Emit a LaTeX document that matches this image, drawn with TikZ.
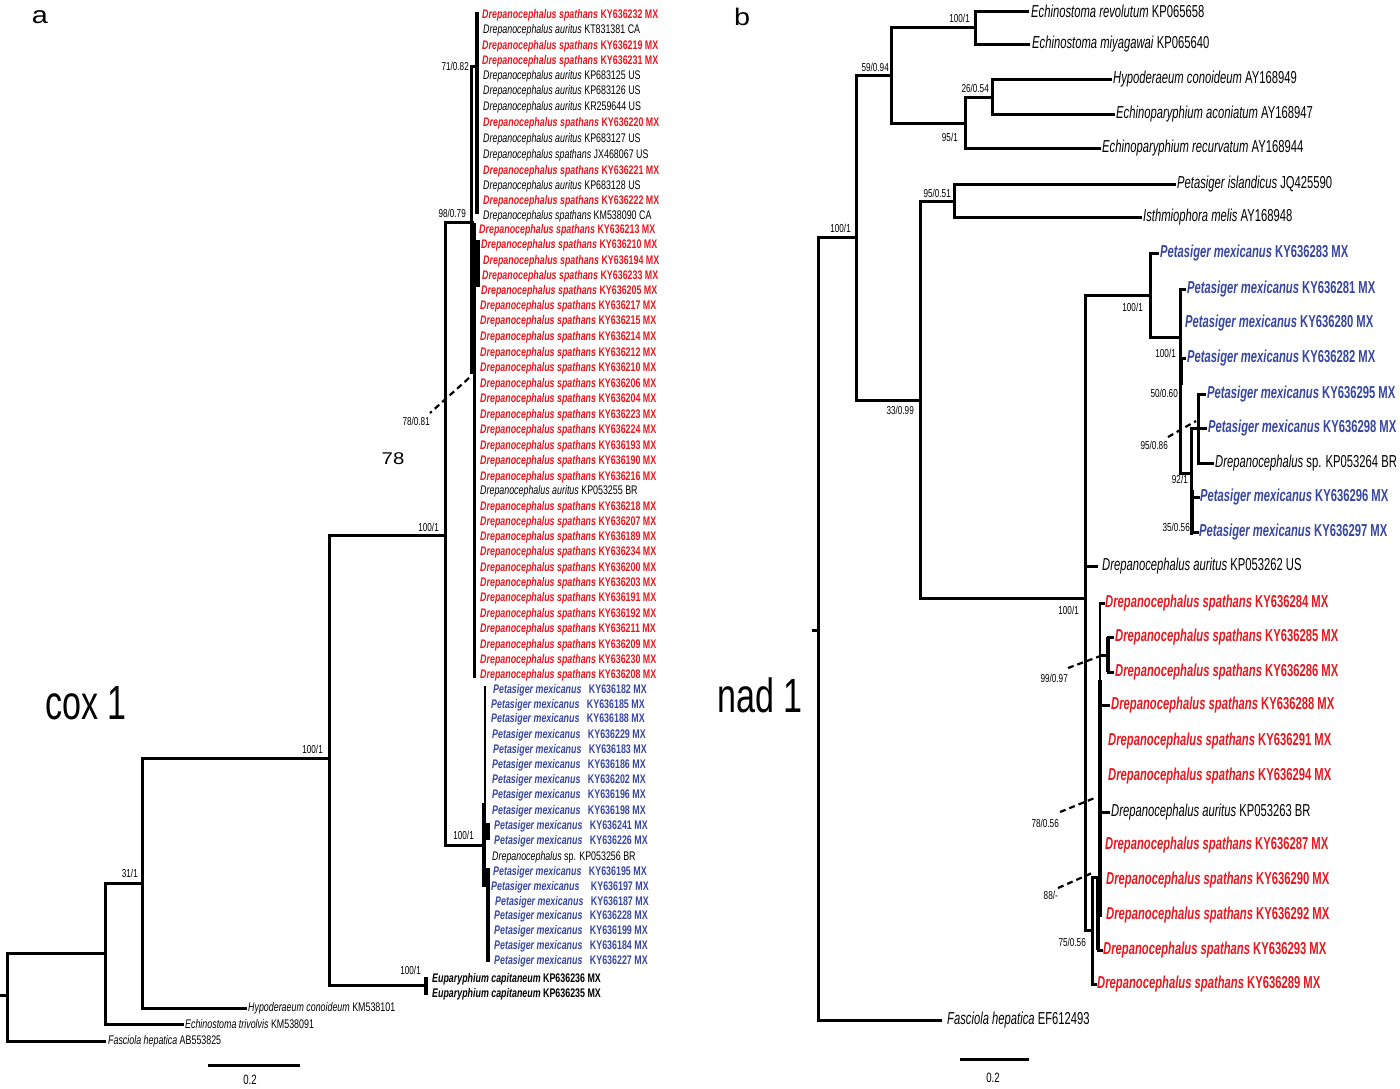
\documentclass[tikz,border=0pt]{standalone}
\usepackage{fontspec}
\setmainfont{Liberation Sans}[FakeStretch=0.71]
\newfontfamily\widefont{Liberation Sans}[FakeStretch=1.2]
\newfontfamily\rfont{Liberation Sans}[FakeStretch=0.65]
\definecolor{dred}{RGB}{230,25,30}
\definecolor{pblue}{RGB}{55,70,160}
\newcommand\lfDs[1]{\textbf{\textit{Drepanocephalus spathans} #1 MX}}
\newcommand\lfDa[1]{\textit{Drepanocephalus auritus} #1}
\newcommand\lfPm[1]{\textbf{\textit{Petasiger mexicanus}\hspace{5pt} #1 MX}}
\newcommand\lfPR[1]{\textbf{\textit{Petasiger mexicanus} #1 MX}}
\tikzset{
  lL/.style={anchor=west,inner sep=0pt,font=\fontsize{12.5}{14}\selectfont},
  lR/.style={anchor=west,inner sep=0pt,font=\rfont\fontsize{17.3}{19}\selectfont},
  bs/.style={anchor=east,inner sep=0pt,font=\fontsize{11.5}{13}\selectfont},
  sp/.style={text=dred},
  pm/.style={text=pblue},
  br/.style={line width=3pt,line cap=rect},
  thk/.style={line width=4.5pt},
  dsh/.style={line width=2.2pt,dash pattern=on 6pt off 4pt},
}
\begin{document}
\begin{tikzpicture}[x=1pt,y=-1pt]
\useasboundingbox (0,0) rectangle (1400,1088);
% ---------- panel titles ----------
\node[font=\widefont\fontsize{24}{26}\selectfont] (pa) at (40,17) {a};
\node[font=\widefont\fontsize{24}{26}\selectfont] (pb) at (742,17) {b};
\node[font=\fontsize{48}{50}\selectfont] (cox) at (86,703) {cox 1};
\node[font=\fontsize{48}{50}\selectfont] (nad) at (760,695) {nad 1};
\node[font=\widefont\fontsize{17}{18}\selectfont] (n78) at (393,459) {78};
% ---------- left leaves ----------
\node[lL,sp] (L1) at (482,15) {\lfDs{KY636232}};
\node[lL] (L2) at (483,30) {\lfDa{KT831381 CA}};
\node[lL,sp] (L3) at (482,46) {\lfDs{KY636219}};
\node[lL,sp] (L4) at (482,61) {\lfDs{KY636231}};
\node[lL] (L5) at (483,76) {\lfDa{KP683125 US}};
\node[lL] (L6) at (483,91) {\lfDa{KP683126 US}};
\node[lL] (L7) at (483,107) {\lfDa{KR259644 US}};
\node[lL,sp] (L8) at (483,123) {\lfDs{KY636220}};
\node[lL] (L9) at (483,139) {\lfDa{KP683127 US}};
\node[lL] (L10) at (483,155) {\textit{Drepanocephalus spathans} JX468067 US};
\node[lL,sp] (L11) at (483,171) {\lfDs{KY636221}};
\node[lL] (L12) at (483,186) {\lfDa{KP683128 US}};
\node[lL,sp] (L13) at (483,201) {\lfDs{KY636222}};
\node[lL] (L14) at (483,216) {\textit{Drepanocephalus spathans} KM538090 CA};
\node[lL,sp] (L15) at (479,230) {\lfDs{KY636213}};
\node[lL,sp] (L16) at (481,245) {\lfDs{KY636210}};
\node[lL,sp] (L17) at (483,261) {\lfDs{KY636194}};
\node[lL,sp] (L18) at (482,276) {\lfDs{KY636233}};
\node[lL,sp] (L19) at (481,291) {\lfDs{KY636205}};
\node[lL,sp] (L20) at (480,306) {\lfDs{KY636217}};
\node[lL,sp] (L21) at (480,321) {\lfDs{KY636215}};
\node[lL,sp] (L22) at (480,337) {\lfDs{KY636214}};
\node[lL,sp] (L23) at (480,353) {\lfDs{KY636212}};
\node[lL,sp] (L24) at (480,368) {\lfDs{KY636210}};
\node[lL,sp] (L25) at (480,384) {\lfDs{KY636206}};
\node[lL,sp] (L26) at (480,399) {\lfDs{KY636204}};
\node[lL,sp] (L27) at (480,415) {\lfDs{KY636223}};
\node[lL,sp] (L28) at (480,430) {\lfDs{KY636224}};
\node[lL,sp] (L29) at (480,446) {\lfDs{KY636193}};
\node[lL,sp] (L30) at (480,461) {\lfDs{KY636190}};
\node[lL,sp] (L31) at (480,477) {\lfDs{KY636216}};
\node[lL] (L32) at (480,491) {\lfDa{KP053255 BR}};
\node[lL,sp] (L33) at (480,507) {\lfDs{KY636218}};
\node[lL,sp] (L34) at (480,522) {\lfDs{KY636207}};
\node[lL,sp] (L35) at (480,537) {\lfDs{KY636189}};
\node[lL,sp] (L36) at (480,552) {\lfDs{KY636234}};
\node[lL,sp] (L37) at (480,568) {\lfDs{KY636200}};
\node[lL,sp] (L38) at (480,583) {\lfDs{KY636203}};
\node[lL,sp] (L39) at (480,598) {\lfDs{KY636191}};
\node[lL,sp] (L40) at (480,614) {\lfDs{KY636192}};
\node[lL,sp] (L41) at (480,629) {\lfDs{KY636211}};
\node[lL,sp] (L42) at (480,645) {\lfDs{KY636209}};
\node[lL,sp] (L43) at (480,660) {\lfDs{KY636230}};
\node[lL,sp] (L44) at (480,675) {\lfDs{KY636208}};
\node[lL,pm] (L45) at (493,690) {\lfPm{KY636182}};
\node[lL,pm] (L46) at (491,705) {\lfPm{KY636185}};
\node[lL,pm] (L47) at (491,719) {\lfPm{KY636188}};
\node[lL,pm] (L48) at (492,735) {\lfPm{KY636229}};
\node[lL,pm] (L49) at (493,750) {\lfPm{KY636183}};
\node[lL,pm] (L50) at (492,765) {\lfPm{KY636186}};
\node[lL,pm] (L51) at (492,780) {\lfPm{KY636202}};
\node[lL,pm] (L52) at (492,795) {\lfPm{KY636196}};
\node[lL,pm] (L53) at (492,811) {\lfPm{KY636198}};
\node[lL,pm] (L54) at (494,826) {\lfPm{KY636241}};
\node[lL,pm] (L55) at (494,841) {\lfPm{KY636226}};
\node[lL] (L56) at (492,857) {\textit{Drepanocephalus} sp. KP053256 BR};
\node[lL,pm] (L57) at (493,872) {\lfPm{KY636195}};
\node[lL,pm] (L58) at (491,887) {\textbf{\textit{Petasiger mexicanus}\hspace{9pt} KY636197 MX}};
\node[lL,pm] (L59) at (495,902) {\lfPm{KY636187}};
\node[lL,pm] (L60) at (494,916) {\lfPm{KY636228}};
\node[lL,pm] (L61) at (494,931) {\lfPm{KY636199}};
\node[lL,pm] (L62) at (494,946) {\lfPm{KY636184}};
\node[lL,pm] (L63) at (494,961) {\lfPm{KY636227}};
\node[lL] (L64) at (432,979) {\textbf{\textit{Euparyphium capitaneum} KP636236 MX}};
\node[lL] (L65) at (432,994) {\textbf{\textit{Euparyphium capitaneum} KP636235 MX}};
\node[lL] (L66) at (248,1008) {\textit{Hypoderaeum conoideum} KM538101};
\node[lL] (L67) at (185,1024) {\textit{Echinostoma trivolvis} KM538091};
\node[lL] (L68) at (108,1041) {\textit{Fasciola hepatica} AB553825};
% ---------- left branches ----------
\draw[br] (0,995) -- (7,995);
\draw[br] (7,953) -- (7,1041) -- ([xshift=-4pt]L68.west);
\draw[br] (7,953) -- (105,953);
\draw[br] (105,883) -- (105,1024) -- ([xshift=-3pt]L67.west);
\draw[br] (105,883) -- (142,883);
\draw[br] (142,758) -- (142,1008) -- ([xshift=-3pt]L66.west);
\draw[br] (142,758) -- (329,758);
\draw[br] (329,535) -- (329,985) -- (426,985);
\draw[thk] (426,977) -- (426,995);
\draw[br] (329,535) -- (445,535);
\draw[br] (445,222) -- (445,845) -- (484,845);
\draw[br] (445,222) -- (472,222);
\draw[br] (471,66) -- (471,372);
\draw[br] (471,66) -- (477,66);
\draw[thk] (477,12) -- (477,214);
\draw[br] (474,224) -- (474,676);
\draw[thk] (478,240) -- (478,287);
\draw[dsh] (469,378) -- (430,413);
\draw[line width=2pt] (485,686) -- (485,803);
\draw[thk] (484,803) -- (484,887);
\draw[thk] (488,823) -- (488,840);
\draw[thk] (488,868) -- (488,962);
\draw[br] (484,876) -- (488,876);
% left support values
\node[bs] (bl1) at (469,66) {71/0.82};
\node[bs] (bl2) at (466,213) {98/0.79};
\node[bs] (bl3) at (430,421) {78/0.81};
\node[bs] (bl4) at (439,527) {100/1};
\node[bs] (bl5) at (323,749) {100/1};
\node[bs] (bl6) at (138,873) {31/1};
\node[bs] (bl7) at (474,835) {100/1};
\node[bs] (bl8) at (421,970) {100/1};
% left scale bar
\coordinate (sl1) at (209,1065);
\coordinate (sl2) at (298,1065);
\draw[br] (sl1) -- (sl2);
\node[font=\fontsize{13.5}{15}\selectfont] (sbl) at (250,1080) {0.2};
% ---------- right leaves ----------
\node[lR] (R1) at (1031,11) {\textit{Echinostoma revolutum} KP065658};
\node[lR] (R2) at (1032,44) {\textit{Echinostoma miyagawai} KP065640};
\node[lR] (R3) at (1113,79) {\textit{Hypoderaeum conoideum} AY168949};
\node[lR] (R4) at (1116,114) {\textit{Echinoparyphium aconiatum} AY168947};
\node[lR] (R5) at (1102,148) {\textit{Echinoparyphium recurvatum} AY168944};
\node[lR] (R6) at (1177,184) {\textit{Petasiger islandicus} JQ425590};
\node[lR] (R7) at (1143,217) {\textit{Isthmiophora melis} AY168948};
\node[lR,pm] (R8) at (1160,253) {\lfPR{KY636283}};
\node[lR,pm] (R9) at (1187,289) {\lfPR{KY636281}};
\node[lR,pm] (R10) at (1185,323) {\lfPR{KY636280}};
\node[lR,pm] (R11) at (1187,358) {\lfPR{KY636282}};
\node[lR,pm] (R12) at (1207,394) {\lfPR{KY636295}};
\node[lR,pm] (R13) at (1208,428) {\lfPR{KY636298}};
\node[lR] (R14) at (1215,463) {\textit{Drepanocephalus} sp. KP053264 BR};
\node[lR,pm] (R15) at (1200,497) {\lfPR{KY636296}};
\node[lR,pm] (R16) at (1199,532) {\lfPR{KY636297}};
\node[lR] (R17) at (1102,566) {\lfDa{KP053262 US}};
\node[lR,sp] (R18) at (1105,603) {\lfDs{KY636284}};
\node[lR,sp] (R19) at (1115,637) {\lfDs{KY636285}};
\node[lR,sp] (R20) at (1115,672) {\lfDs{KY636286}};
\node[lR,sp] (R21) at (1111,705) {\lfDs{KY636288}};
\node[lR,sp] (R22) at (1108,741) {\lfDs{KY636291}};
\node[lR,sp] (R23) at (1108,776) {\lfDs{KY636294}};
\node[lR] (R24) at (1111,812) {\lfDa{KP053263 BR}};
\node[lR,sp] (R25) at (1105,845) {\lfDs{KY636287}};
\node[lR,sp] (R26) at (1106,880) {\lfDs{KY636290}};
\node[lR,sp] (R27) at (1106,915) {\lfDs{KY636292}};
\node[lR,sp] (R28) at (1103,950) {\lfDs{KY636293}};
\node[lR,sp] (R29) at (1097,984) {\lfDs{KY636289}};
\node[lR] (R30) at (947,1020) {\textit{Fasciola hepatica} EF612493};
% ---------- right branches ----------
\draw[br] (813,630) -- (818,630);
\draw[br] (818,237) -- (818,1020) -- ([xshift=-7pt]R30.west);
\draw[br] (818,237) -- (856,237);
\draw[br] (856,75) -- (856,400);
\draw[br] (856,75) -- (891,75);
\draw[br] (891,27) -- (891,123);
\draw[br] (891,27) -- (975,27);
\draw[br] (975,11) -- (975,44);
\draw[br] (975,11) -- ([xshift=-4pt]R1.west);
\draw[br] (975,44) -- ([xshift=-4pt]R2.west);
\draw[br] (891,123) -- (965,123);
\draw[br] (965,97) -- (965,148) -- ([xshift=-3pt]R5.west);
\draw[br] (965,97) -- (992,97);
\draw[br] (992,79) -- (992,114);
\draw[br] (992,79) -- ([xshift=-3pt]R3.west);
\draw[br] (992,114) -- ([xshift=-3pt]R4.west);
\draw[br] (856,400) -- (920,400);
\draw[br] (920,201) -- (920,598);
\draw[br] (920,201) -- (954,201);
\draw[br] (954,184) -- (954,217);
\draw[br] (954,184) -- ([xshift=-3pt]R6.west);
\draw[br] (954,217) -- ([xshift=-3pt]R7.west);
\draw[br] (920,598) -- (1085,598);
\draw[br] (1085,295) -- (1085,930);
\draw[br] (1085,295) -- (1150,295);
\draw[br] (1150,253) -- (1150,337);
\draw[br] (1150,253) -- ([xshift=-3pt]R8.west);
\draw[br] (1150,337) -- (1180,337);
\draw[br] (1180,289) -- (1180,473);
\draw[br] (1180,289) -- ([xshift=-3pt]R9.west);
\draw[br] (1180,358) -- ([xshift=-3pt]R11.west);
\draw[thk] (1181,357) -- (1181,385);
\draw[br] (1180,473) -- (1191,473);
\draw[br] (1191,428) -- (1191,533);
\draw[thk] (1192,490) -- (1192,533);
\draw[br] (1191,428) -- (1198,428);
\draw[br] (1198,394) -- (1198,463);
\draw[br] (1198,394) -- ([xshift=-3pt]R12.west);
\draw[br] (1198,428) -- ([xshift=-3pt]R13.west);
\draw[br] (1198,463) -- ([xshift=-3pt]R14.west);
\draw[br] (1191,497) -- ([xshift=-2pt]R15.west);
\draw[br] (1191,532) -- ([xshift=-2pt]R16.west);
\draw[dsh] (1168,437) -- (1196,421);
\draw[br] (1085,566) -- ([xshift=-6pt]R17.west);
\draw[line width=2.2pt] (1100,603) -- (1100,680);
\draw[thk] (1100,680) -- (1100,917);
\draw[br] (1100,603) -- ([xshift=-2pt]R18.west);
\draw[br] (1100,655) -- (1108,655);
\draw[thk] (1108,637) -- (1108,672);
\draw[br] (1108,637) -- ([xshift=-3pt]R19.west);
\draw[br] (1108,672) -- ([xshift=-3pt]R20.west);
\draw[br] (1100,705) -- ([xshift=-3pt]R21.west);
\draw[br] (1100,812) -- ([xshift=-3pt]R24.west);
\draw[br] (1085,930) -- (1092,930);
\draw[br] (1092,877) -- (1092,984) -- ([xshift=-2pt]R29.west);
\draw[br] (1092,877) -- (1098,877);
\draw[thk] (1098,877) -- (1098,950);
\draw[br] (1098,950) -- ([xshift=-2pt]R28.west);
\draw[dsh] (1068,668) -- (1103,655);
\draw[dsh] (1060,812) -- (1097,797);
\draw[dsh] (1058,888) -- (1092,873);
% right support values
\node[bs] (br1) at (851,228) {100/1};
\node[bs] (br2) at (889,67) {59/0.94};
\node[bs] (br3) at (970,18) {100/1};
\node[bs] (br4) at (989,88) {26/0.54};
\node[bs] (br5) at (958,137) {95/1};
\node[bs] (br6) at (951,193) {95/0.51};
\node[bs] (br7) at (914,410) {33/0.99};
\node[bs] (br8) at (1079,610) {100/1};
\node[bs] (br9) at (1143,307) {100/1};
\node[bs] (br10) at (1176,353) {100/1};
\node[bs] (br11) at (1178,393) {50/0.60};
\node[bs] (br12) at (1168,445) {95/0.86};
\node[bs] (br13) at (1188,479) {92/1};
\node[bs] (br14) at (1190,527) {35/0.56};
\node[bs] (br15) at (1068,678) {99/0.97};
\node[bs] (br16) at (1059,823) {78/0.56};
\node[bs] (br17) at (1058,895) {88/-};
\node[bs] (br18) at (1086,942) {75/0.56};
% right scale bar
\coordinate (sr1) at (961,1059);
\coordinate (sr2) at (1027,1059);
\draw[br] (sr1) -- (sr2);
\node[font=\fontsize{13.5}{15}\selectfont] (sbr) at (993,1078) {0.2};
\end{tikzpicture}
\end{document}
